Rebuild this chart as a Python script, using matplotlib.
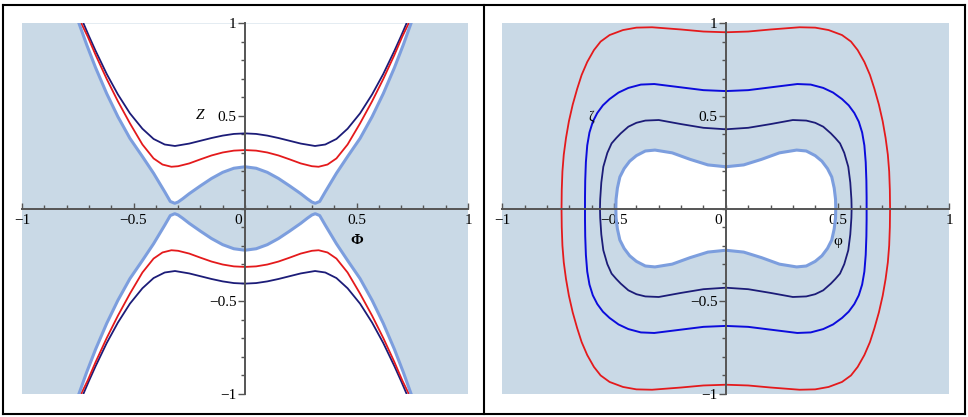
import numpy as np
import matplotlib.pyplot as plt
from matplotlib.lines import Line2D

# --- data (upper-right quarter, mirrored when drawn) ---
# left panel: curves Z(Phi), upper half
lb_x = [0, 0.05, 0.1, 0.15, 0.2, 0.25, 0.28, 0.30, 0.315, 0.335, 0.36, 0.41, 0.46, 0.516, 0.57, 0.62, 0.67, 0.71, 0.745]
lb_y = [0.225, 0.217, 0.195, 0.162, 0.122, 0.08, 0.052, 0.035, 0.028, 0.038, 0.09, 0.19, 0.28, 0.378, 0.495, 0.619, 0.759, 0.883, 1.0]
red_x = [0, 0.05, 0.1, 0.15, 0.2, 0.25, 0.3, 0.33, 0.37, 0.41, 0.46, 0.516, 0.57, 0.62, 0.67, 0.705, 0.735]
red_y = [0.315, 0.312, 0.302, 0.286, 0.265, 0.243, 0.228, 0.225, 0.237, 0.27, 0.345, 0.459, 0.578, 0.698, 0.828, 0.926, 1.0]
navy_x = [0, 0.05, 0.1, 0.15, 0.2, 0.25, 0.314, 0.36, 0.41, 0.46, 0.516, 0.57, 0.62, 0.67, 0.70, 0.725]
navy_y = [0.405, 0.402, 0.393, 0.38, 0.365, 0.35, 0.337, 0.345, 0.375, 0.43, 0.513, 0.615, 0.725, 0.85, 0.93, 1.0]

# right panel: closed curves, quarter from top centre to the phi axis
r_red_x = [0, 0.1, 0.2, 0.33, 0.40, 0.46, 0.52, 0.56, 0.59, 0.62, 0.645, 0.665, 0.685, 0.702, 0.715, 0.725, 0.731, 0.734, 0.735]
r_red_y = [0.95, 0.954, 0.965, 0.977, 0.975, 0.962, 0.935, 0.9, 0.854, 0.79, 0.72, 0.645, 0.56, 0.47, 0.38, 0.29, 0.2, 0.1, 0]
r_blue_x = [0, 0.1, 0.2, 0.32, 0.38, 0.436, 0.48, 0.52, 0.55, 0.575, 0.595, 0.61, 0.62, 0.626, 0.629, 0.63, 0.63]
r_blue_y = [0.633, 0.638, 0.653, 0.671, 0.668, 0.65, 0.625, 0.59, 0.556, 0.515, 0.468, 0.41, 0.34, 0.25, 0.15, 0.06, 0]
r_navy_x = [0, 0.1, 0.2, 0.30, 0.36, 0.40, 0.436, 0.47, 0.49, 0.511, 0.53, 0.548, 0.557, 0.562, 0.563]
r_navy_y = [0.427, 0.435, 0.455, 0.477, 0.474, 0.462, 0.441, 0.405, 0.38, 0.351, 0.3, 0.225, 0.14, 0.05, 0]
r_lb_x = [0, 0.08, 0.16, 0.24, 0.317, 0.36, 0.40, 0.43, 0.455, 0.474, 0.485, 0.491, 0.492]
r_lb_y = [0.225, 0.235, 0.265, 0.3, 0.315, 0.31, 0.285, 0.255, 0.215, 0.17, 0.11, 0.05, 0]

SHADE = '#c9d9e6'
NAVY = '#1c1c78'
RED = '#e41a1c'
LBLUE = '#7c9ede'
BLUE = '#0c0cdc'
AXC = '#555555'


def mirror_lr(x, y):
    x = np.asarray(x)
    y = np.asarray(y)
    return np.concatenate([-x[::-1], x]), np.concatenate([y[::-1], y])


def loop(x, y):
    x = np.asarray(x)
    y = np.asarray(y)
    xs = np.concatenate([x, x[::-1], -x, -x[::-1]])
    ys = np.concatenate([y, -y[::-1], -y, y[::-1]])
    return xs, ys


def style_axes(ax):
    ax.set_xlim(-1, 1)
    ax.set_ylim(-1, 1)
    ax.set_facecolor('white')
    for s in ['top', 'right']:
        ax.spines[s].set_visible(False)
    ax.spines['left'].set_position('zero')
    ax.spines['bottom'].set_position('zero')
    for s in ['left', 'bottom']:
        ax.spines[s].set_color(AXC)
        ax.spines[s].set_linewidth(1.4)
        ax.spines[s].set_zorder(5)
    ax.set_xticks([-1, -0.5, 0.5, 1])
    ax.set_xticklabels(['\u22121', '\u22120.5', '0.5', '1'])
    ax.set_xticks(np.arange(-10, 11) / 10, minor=True)
    ax.set_yticks([-1, -0.5, 0.5, 1])
    ax.set_yticklabels(['\u22121', '\u22120.5', '0.5', '1'])
    ax.set_yticks(np.arange(-10, 11) / 10, minor=True)
    ax.tick_params(axis='x', which='both', direction='in', color=AXC, width=1, labelsize=11, pad=4)
    ax.tick_params(axis='x', which='major', length=4)
    ax.tick_params(axis='x', which='minor', length=3)
    ax.tick_params(axis='y', which='both', direction='out', color=AXC, width=1, labelsize=11, pad=1)
    ax.tick_params(axis='y', which='major', length=5)
    ax.tick_params(axis='y', which='minor', length=3)
    ax.text(-0.015, -0.03, '0', ha='right', va='top', fontsize=11)


plt.rcParams['font.family'] = ['Liberation Serif', 'DejaVu Serif']

fig = plt.figure(figsize=(9.68, 4.17), dpi=100)
axL = fig.add_axes([22 / 968, 1 - 394 / 417, 446 / 968, 371 / 417])
axR = fig.add_axes([502.3 / 968, 1 - 394 / 417, 447 / 968, 371 / 417])

# --- left panel ---
style_axes(axL)
axL.fill_between([-1, 1], -1, 1, color=SHADE, lw=0, zorder=0)
bx, by = mirror_lr(lb_x, lb_y)
axL.fill_between(bx, by, 1, color='white', lw=0, zorder=1)
axL.fill_between(bx, -1, -by, color='white', lw=0, zorder=1)
for cx, cy, col, lw in [(navy_x, navy_y, NAVY, 1.3), (red_x, red_y, RED, 1.3), (lb_x, lb_y, LBLUE, 2.2)]:
    fx, fy = mirror_lr(cx, cy)
    axL.plot(fx, fy, color=col, lw=lw, zorder=3)
    axL.plot(fx, -fy, color=col, lw=lw, zorder=3)
axL.text(-0.2, 0.5, 'Z', style='italic', fontsize=11, ha='center', va='center')
axL.text(0.5, -0.17, '\u03a6', fontsize=11, fontweight='bold', ha='center', va='center')

# --- right panel ---
style_axes(axR)
axR.fill_between([-1, 1], -1, 1, color=SHADE, lw=0, zorder=0)
lx, ly = loop(r_lb_x, r_lb_y)
axR.fill(lx, ly, color='white', lw=0, zorder=1)
for cx, cy, col, lw in [(r_red_x, r_red_y, RED, 1.3), (r_blue_x, r_blue_y, BLUE, 1.4),
                        (r_navy_x, r_navy_y, NAVY, 1.3), (r_lb_x, r_lb_y, LBLUE, 2.2)]:
    fx, fy = loop(cx, cy)
    axR.plot(fx, fy, color=col, lw=lw, zorder=3)
axR.text(-0.6, 0.49, '\u03b6', fontsize=10, ha='center', va='center')
axR.text(0.5, -0.18, '\u03c6', fontsize=11, ha='center', va='center')

# frame around the two panels
for xs, ys in [([2.5, 964.5], [4.5, 4.5]), ([2.5, 964.5], [413.5, 413.5]),
               ([2.5, 2.5], [4.5, 413.5]), ([964.5, 964.5], [4.5, 413.5]),
               ([483.5, 483.5], [4.5, 413.5])]:
    fig.add_artist(Line2D([x / 968 for x in xs], [1 - y / 417 for y in ys], color='black', lw=1.5))

fig.savefig('out.png', dpi=100)
